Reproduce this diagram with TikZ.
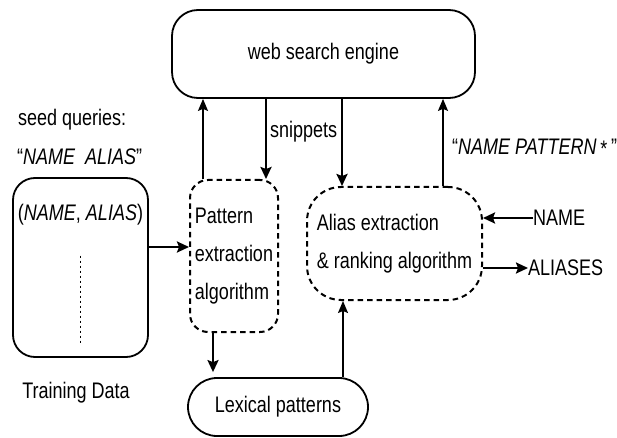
\documentclass[tikz,border=0pt]{standalone}
\usepackage{fontspec}
\setmainfont[FakeStretch=0.8]{Liberation Sans}
\usetikzlibrary{arrows.meta,calc}
\begin{document}
\begin{tikzpicture}[x=1pt,y=-1pt,
  font=\fontsize{22.5}{38}\selectfont,
  solidbox/.style={draw, line width=1.8pt, rounded corners=#1, inner sep=0pt},
  dashbox/.style={draw, line width=2pt, dash pattern=on 5.5pt off 4pt, rounded corners=#1, inner sep=0pt},
  lbl/.style={inner sep=0pt},
  thinarr/.style={-{Stealth[length=12pt,width=10pt,inset=2pt]}, line width=1.4pt},
  thickarr/.style={-{Stealth[length=12pt,width=11pt,inset=2pt]}, line width=2.3pt}]
\useasboundingbox (0,0) rectangle (617,438);

% boxes
\node[solidbox=26pt, minimum width=303pt, minimum height=88pt] (web) at (323.5,54) {web search engine};
\node[solidbox=22pt, minimum width=135pt, minimum height=179pt] (train) at (80.5,267.5) {};
\node[dashbox=18pt, minimum width=88pt, minimum height=152pt, align=left] (pat) at (234,256) {Pattern\\extraction\\algorithm};
\node[dashbox=34pt, minimum width=175pt, minimum height=113pt, align=left] (alias) at (394.5,243.5) {Alias extraction\\\& ranking algorithm};
\node[solidbox=29pt, minimum width=180pt, minimum height=58pt] (lex) at (278,407) {Lexical patterns};

% labels
\node[lbl, anchor=west] (seed) at (18,120) {seed queries:};
\node[lbl, anchor=west] (seedq) at (17,157) {“\textit{NAME\ \ ALIAS}”};
\node[lbl] (pair) at (80.5,215) {(\textit{NAME}, \textit{ALIAS})};
\node[lbl] (tdata) at (76,393) {Training Data};
\node[lbl, anchor=west] (snip) at (270,132) {snippets};
\node[lbl, anchor=west] (npat) at (452,148) {“\textit{NAME PATTERN}\,\raisebox{-2pt}{*}\,”};
\node[lbl, anchor=west] (name) at (533,218) {NAME};
\node[lbl, anchor=west] (aliases) at (528,268) {ALIASES};

% helper coordinates
\coordinate (c203) at (203,0);
\coordinate (c266) at (266,0);
\coordinate (c342) at (342,0);
\coordinate (c443) at (443,0);
\coordinate (c213) at (213,0);
\coordinate (c343) at (343,0);
\coordinate (y247) at (0,247);

% dotted line in training data
\draw[line width=1.5pt, dash pattern=on 2pt off 3pt] ($(pair.south)+(0,30)$) -- ($(pair.south)+(0,118)$);

% connectors
\draw[thinarr] (pat.north -| c203) -- (web.south -| c203);
\draw[thickarr] (web.south -| c266) -- (pat.north -| c266);
\draw[thickarr] (web.south -| c342) -- (alias.north -| c342);
\draw[thinarr] (alias.north -| c443) -- (web.south -| c443);
\draw[thickarr] (train.east |- y247) -- (pat.west |- y247);
\draw[thickarr] (pat.south -| c213) -- ($(lex.north -| c213)+(0,-5)$);
\draw[thinarr] (lex.north -| c343) -- (alias.south -| c343);
\draw[thickarr] (name.west) -- (alias.east |- name.west);
\draw[thickarr] (alias.east |- aliases.west) -- (aliases.west);
\end{tikzpicture}
\end{document}
